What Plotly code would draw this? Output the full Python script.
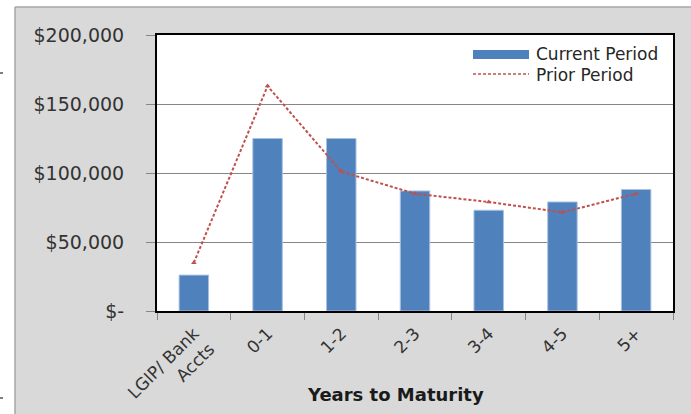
import plotly.graph_objects as go

# Holdings by maturity bucket
categories = ["LGIP/ Bank<br>Accts", "0-1", "1-2", "2-3", "3-4", "4-5", "5+"]
current_period = [26000, 125000, 125000, 87000, 73000, 79000, 88000]
prior_period = [35000, 163000, 101000, 85000, 79000, 71500, 85000]
y_tickvals = [0, 50000, 100000, 150000, 200000]
y_ticktext = ["$-", "$50,000", "$100,000", "$150,000", "$200,000"]

FONT = "DejaVu Sans"
BAR = "#4f81bd"
LINE = "#c0504d"
GRID = "#868686"

# plot-area geometry in pixels (used to place paper-space decorations)
W, H = 691, 414
L, R, T, B = 157, 18, 35, 103
PW, PH = W - L - R, H - T - B


def px(x):
    return (x - L) / PW


def py(y):
    return (H - B - y) / PH


fig = go.Figure()
fig.add_trace(go.Bar(
    x=categories, y=current_period, name="Current Period",
    marker=dict(color=BAR, line=dict(color="#a9c1e0", width=1)),
    showlegend=False,
))
fig.add_trace(go.Scatter(
    x=categories, y=prior_period, name="Prior Period", mode="lines+markers",
    line=dict(color=LINE, width=2, dash="3px,2px"),
    marker=dict(symbol="triangle-up", size=5, color=LINE),
    showlegend=False,
))

shapes = [
    # white strip along the top and left of the chart frame
    dict(type="rect", xref="paper", yref="paper", x0=px(0), x1=px(W), y0=py(7), y1=py(0),
         fillcolor="white", line=dict(width=0), layer="above"),
    dict(type="rect", xref="paper", yref="paper", x0=px(0), x1=px(15), y0=py(H), y1=py(0),
         fillcolor="white", line=dict(width=0), layer="above"),
    # frame edges
    dict(type="line", xref="paper", yref="paper", x0=px(15), x1=px(15), y0=py(7), y1=py(H),
         line=dict(color="#a6a6a6", width=1.5), layer="above"),
    dict(type="line", xref="paper", yref="paper", x0=px(15), x1=px(W), y0=py(7), y1=py(7),
         line=dict(color="#a6a6a6", width=1.5), layer="above"),
    dict(type="line", xref="paper", yref="paper", x0=px(0), x1=px(3), y0=py(73), y1=py(73),
         line=dict(color="#555555", width=1.5), layer="above"),
    dict(type="line", xref="paper", yref="paper", x0=px(0), x1=px(3), y0=py(398), y1=py(398),
         line=dict(color="#555555", width=1.5), layer="above"),
    # legend keys
    dict(type="rect", xref="paper", yref="paper", x0=px(473), x1=px(529), y0=py(59), y1=py(50),
         fillcolor=BAR, line=dict(width=0)),
    dict(type="line", xref="paper", yref="paper", x0=px(473), x1=px(529), y0=py(74), y1=py(74),
         line=dict(color=LINE, width=1.5, dash="3px,2px")),
]

annotations = [
    dict(text="Current Period", xref="paper", yref="paper", x=px(534), y=py(54),
         xanchor="left", yanchor="middle", showarrow=False,
         font=dict(family=FONT, size=17, color="#262626")),
    dict(text="Prior Period", xref="paper", yref="paper", x=px(534), y=py(75),
         xanchor="left", yanchor="middle", showarrow=False,
         font=dict(family=FONT, size=17, color="#262626")),
    dict(text="<b>Years to Maturity</b>", xref="paper", yref="paper", x=px(395), y=py(394),
         xanchor="center", yanchor="middle", showarrow=False,
         font=dict(family=FONT, size=18, color="#1a1a1a")),
]

fig.update_layout(
    width=W, height=H,
    margin=dict(l=L, r=R, t=T, b=B, pad=0, autoexpand=False),
    paper_bgcolor="#d9d9d9", plot_bgcolor="white",
    bargap=0.6,
    font=dict(family=FONT, color="#333333"),
    shapes=shapes, annotations=annotations,
)
fig.update_xaxes(
    type="category", showline=True, linecolor="black", linewidth=2, mirror=True,
    ticks="outside", tickson="boundaries", ticklen=7, tickcolor=GRID, tickwidth=1,
    tickangle=-45, tickfont=dict(family=FONT, size=17, color="#333333"),
    ticklabelstandoff=4,
    showgrid=False, automargin=False,
)
fig.update_yaxes(
    range=[0, 200000], tickvals=y_tickvals, ticktext=y_ticktext,
    showline=True, linecolor="black", linewidth=2, mirror=True,
    ticks="outside", ticklen=9, tickcolor=GRID, tickwidth=1,
    ticklabelstandoff=18, automargin=False,
    showgrid=True, gridcolor=GRID, gridwidth=1, zeroline=False,
    tickfont=dict(family=FONT, size=19, color="#333333"),
)

fig.write_html("out.html")
